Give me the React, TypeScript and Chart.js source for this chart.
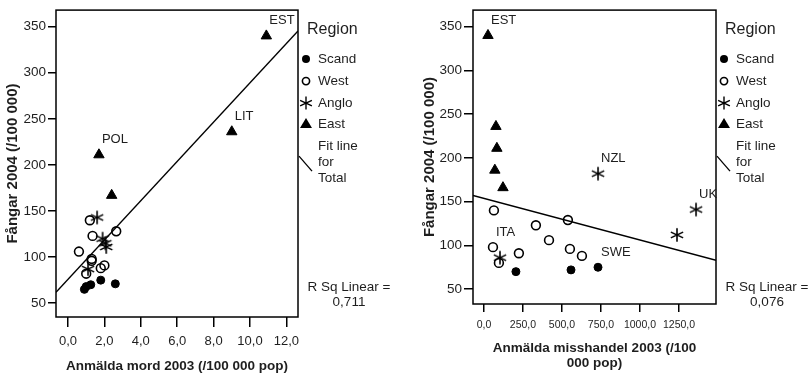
import React, { useEffect, useRef } from 'react';
import { Chart, registerables } from 'chart.js';

Chart.register(...registerables);

// ---------- data ----------
const regionNames = ['Scand', 'West', 'Anglo', 'East'];
const yTicks = [50, 100, 150, 200, 250, 300, 350];

// Panel 1: murders 2003 vs prisoners 2004
const murderXRange = [-0.66, 12.64];
const murderYRange = [35, 368];
const murderXTicks = [0, 2, 4, 6, 8, 10, 12];
const murderScand = [[0.9, 65], [1.0, 68], [1.25, 70], [1.8, 75], [2.6, 71]];
const murderWest = [[1.2, 140], [1.35, 123], [0.6, 106], [1.3, 98], [1.3, 96], [1.8, 88], [2.0, 91], [2.65, 128], [1.0, 82]];
const murderAnglo = [[1.6, 143], [1.9, 120], [2.05, 115], [2.1, 111], [1.1, 87]];
const murderEast = [[10.9, 340], [9.0, 236], [1.7, 211], [2.4, 167]];
const murderLabels = [['EST', 10.9, 340], ['LIT', 9.0, 236], ['POL', 1.7, 211]];
const murderFit = [76, 21.3]; // intercept, slope
const murderRSq = 0.711;

// Panel 2: assaults 2003 vs prisoners 2004
const assaultXRange = [-70, 1487];
const assaultYRange = [33, 369];
const assaultXTicks = [0, 250, 500, 750, 1000, 1250];
const assaultScand = [[205, 70], [558, 72], [731, 75]];
const assaultWest = [[64, 140], [58, 98], [96, 80], [224, 91], [333, 123], [417, 106], [538, 129], [551, 96], [628, 88]];
const assaultAnglo = [[103, 86], [731, 182], [1359, 141], [1237, 112]];
const assaultEast = [[26, 340], [77, 236], [83, 211], [70, 186], [122, 166]];
const assaultLabels = [['EST', 26, 340], ['ITA', 58, 98], ['NZL', 731, 182], ['UK', 1359, 141], ['SWE', 731, 75]];
const assaultFit = [153.7, -0.0475];
const assaultRSq = 0.076;

// ---------- styling ----------
const FONT = '"Liberation Sans", Arial, Helvetica, sans-serif';
const TEXT = '#1e1e1e';
const INK = '#000';

const fmt1 = (v: number) => v.toFixed(1).replace('.', ',');
const fmt3 = (v: number) => v.toFixed(3).replace('.', ',');
const toXY = (arr: number[][]) => arr.map(([x, y]) => ({ x, y }));

function drawAsterisk(ctx: CanvasRenderingContext2D, cx: number, cy: number, r: number) {
  ctx.beginPath();
  for (const deg of [90, 25, 155]) {
    const a = (deg * Math.PI) / 180;
    ctx.moveTo(cx - r * Math.cos(a), cy - r * Math.sin(a));
    ctx.lineTo(cx + r * Math.cos(a), cy + r * Math.sin(a));
  }
  ctx.stroke();
}

function makeStarCanvas() {
  const c = document.createElement('canvas');
  c.width = 16;
  c.height = 16;
  const g = c.getContext('2d')!;
  g.strokeStyle = INK;
  g.lineWidth = 1.6;
  drawAsterisk(g, 8, 8, 6.8);
  return c;
}

function decorPlugin(labels: (string | number)[][], rsq: number) {
  return {
    id: 'decor',
    afterDraw(chart: any) {
      const { ctx, chartArea: a, scales } = chart;
      const xs = scales.x;
      const ys = scales.y;
      ctx.save();
      // frame
      ctx.strokeStyle = INK;
      ctx.lineWidth = 1.5;
      ctx.strokeRect(a.left, a.top, a.right - a.left, a.bottom - a.top);
      // point labels
      ctx.fillStyle = TEXT;
      ctx.font = `13px ${FONT}`;
      ctx.textAlign = 'left';
      ctx.textBaseline = 'middle';
      for (const [t, vx, vy] of labels) {
        ctx.fillText(String(t), xs.getPixelForValue(vx as number) + 3, ys.getPixelForValue(vy as number) - 15);
      }
      // legend
      const lx = a.right;
      const top = a.top;
      ctx.font = `16px ${FONT}`;
      ctx.fillText('Region', lx + 9, top + 19);
      ctx.font = `13.5px ${FONT}`;
      const rows = [top + 49, top + 71, top + 93, top + 114];
      const mx = lx + 8;
      regionNames.forEach((name, i) => {
        const yy = rows[i];
        ctx.fillStyle = INK;
        ctx.strokeStyle = INK;
        if (i === 0) {
          ctx.beginPath();
          ctx.arc(mx, yy, 4, 0, Math.PI * 2);
          ctx.fill();
        } else if (i === 1) {
          ctx.lineWidth = 1.6;
          ctx.beginPath();
          ctx.arc(mx, yy, 3.6, 0, Math.PI * 2);
          ctx.stroke();
        } else if (i === 2) {
          ctx.lineWidth = 1.4;
          drawAsterisk(ctx, mx, yy, 6.5);
        } else {
          ctx.beginPath();
          ctx.moveTo(mx, yy - 6);
          ctx.lineTo(mx + 6, yy + 4);
          ctx.lineTo(mx - 6, yy + 4);
          ctx.closePath();
          ctx.fill();
        }
        ctx.fillStyle = TEXT;
        ctx.fillText(name, lx + 20, yy);
      });
      // fit line legend
      ctx.strokeStyle = INK;
      ctx.lineWidth = 1.3;
      ctx.beginPath();
      ctx.moveTo(lx + 1, top + 146);
      ctx.lineTo(lx + 14, top + 161);
      ctx.stroke();
      ctx.fillText('Fit line', lx + 20, top + 136);
      ctx.fillText('for', lx + 20, top + 152);
      ctx.fillText('Total', lx + 20, top + 168);
      // R squared
      ctx.textAlign = 'center';
      const cx = lx + 51;
      ctx.fillText('R Sq Linear =', cx, top + 277);
      ctx.fillText(fmt3(rsq), cx, top + 292);
      ctx.restore();
    },
  };
}

type PanelProps = {
  scand: number[][];
  west: number[][];
  anglo: number[][];
  east: number[][];
  labels: (string | number)[][];
  fit: number[];
  rsq: number;
  xRange: number[];
  yRange: number[];
  xTicks: number[];
  xTitle: string | string[];
  xTickSize: number;
  padding: { left: number; top: number; right: number; bottom: number };
  yWidth: number;
  xHeight: number;
  yTickLength: number;
  xTickLength: number;
  xTitlePad: number;
};

function ScatterPanel(p: PanelProps) {
  const ref = useRef<HTMLCanvasElement>(null);
  useEffect(() => {
    if (!ref.current) return;
    const star = makeStarCanvas();
    const [x0, x1] = p.xRange;
    const [b0, b1] = p.fit;
    const chart = new Chart(ref.current, {
      type: 'scatter',
      data: {
        datasets: [
          {
            label: 'Fit line for Total',
            type: 'line',
            data: [{ x: x0, y: b0 + b1 * x0 }, { x: x1, y: b0 + b1 * x1 }],
            showLine: true,
            borderColor: INK,
            borderWidth: 1.4,
            pointRadius: 0,
            order: 5,
          } as any,
          {
            label: 'Scand',
            data: toXY(p.scand),
            pointStyle: 'circle',
            pointRadius: 4,
            backgroundColor: INK,
            borderColor: INK,
            borderWidth: 1,
          },
          {
            label: 'West',
            data: toXY(p.west),
            pointStyle: 'circle',
            pointRadius: 4.4,
            backgroundColor: 'rgba(0,0,0,0)',
            borderColor: INK,
            borderWidth: 1.6,
          },
          {
            label: 'Anglo',
            data: toXY(p.anglo),
            pointStyle: star as any,
            pointRadius: 7,
          },
          {
            label: 'East',
            data: toXY(p.east),
            pointStyle: 'triangle',
            pointRadius: 6,
            backgroundColor: INK,
            borderColor: INK,
            borderWidth: 1,
          },
        ],
      },
      options: {
        responsive: false,
        animation: false,
        events: [],
        layout: { padding: p.padding },
        plugins: { legend: { display: false }, tooltip: { enabled: false } },
        scales: {
          x: {
            type: 'linear',
            min: p.xRange[0],
            max: p.xRange[1],
            afterBuildTicks: (s: any) => {
              s.ticks = p.xTicks.map((v) => ({ value: v }));
            },
            afterFit: (s: any) => {
              s.height = p.xHeight;
            },
            ticks: {
              callback: (v: any) => fmt1(Number(v)),
              font: { family: FONT, size: p.xTickSize },
              color: TEXT,
              padding: 7,
              maxRotation: 0,
              autoSkip: false,
            },
            grid: {
              display: true,
              drawOnChartArea: false,
              drawTicks: true,
              tickLength: p.xTickLength,
              color: INK,
              lineWidth: 1.5,
            },
            border: { display: false },
            title: {
              display: true,
              text: p.xTitle,
              color: TEXT,
              font: { family: FONT, size: 13.5, weight: 'bold', lineHeight: 1.05 },
              padding: { top: 0, bottom: p.xTitlePad },
            },
          },
          y: {
            type: 'linear',
            min: p.yRange[0],
            max: p.yRange[1],
            afterBuildTicks: (s: any) => {
              s.ticks = yTicks.map((v) => ({ value: v }));
            },
            afterFit: (s: any) => {
              s.width = p.yWidth;
            },
            ticks: {
              callback: (v: any) => String(v),
              font: { family: FONT, size: 13.5 },
              color: TEXT,
              padding: 2,
            },
            grid: {
              display: true,
              drawOnChartArea: false,
              drawTicks: true,
              tickLength: p.yTickLength,
              color: INK,
              lineWidth: 1.5,
            },
            border: { display: false },
            title: {
              display: true,
              text: 'Fångar 2004 (/100 000)',
              color: TEXT,
              font: { family: FONT, size: 15, weight: 'bold' },
              padding: { top: 4, bottom: 4 },
            },
          },
        },
      } as any,
      plugins: [decorPlugin(p.labels, p.rsq)],
    });
    return () => chart.destroy();
  }, []);
  return <canvas ref={ref} width={406} height={377} style={{ display: 'block' }} />;
}

export default function App() {
  return (
    <div style={{ position: 'fixed', left: 0, top: 0, width: 812, height: 377, background: '#fff' }}>
      <div style={{ position: 'absolute', left: 0, top: 0 }}>
        <ScatterPanel
          scand={murderScand}
          west={murderWest}
          anglo={murderAnglo}
          east={murderEast}
          labels={murderLabels}
          fit={murderFit}
          rsq={murderRSq}
          xRange={murderXRange}
          yRange={murderYRange}
          xTicks={murderXTicks}
          xTitle="Anmälda mord 2003 (/100 000 pop)"
          xTickSize={13}
          padding={{ left: 0, top: 6, right: 108, bottom: 0 }}
          yWidth={56}
          xHeight={60}
          yTickLength={8}
          xTickLength={10}
          xTitlePad={4}
        />
      </div>
      <div style={{ position: 'absolute', left: 406, top: 0 }}>
        <ScatterPanel
          scand={assaultScand}
          west={assaultWest}
          anglo={assaultAnglo}
          east={assaultEast}
          labels={assaultLabels}
          fit={assaultFit}
          rsq={assaultRSq}
          xRange={assaultXRange}
          yRange={assaultYRange}
          xTicks={assaultXTicks}
          xTitle={['Anmälda misshandel 2003 (/100', '000 pop)']}
          xTickSize={10.5}
          padding={{ left: 11, top: 6, right: 96, bottom: 0 }}
          yWidth={56}
          xHeight={73}
          yTickLength={9}
          xTickLength={8}
          xTitlePad={7}
        />
      </div>
    </div>
  );
}
